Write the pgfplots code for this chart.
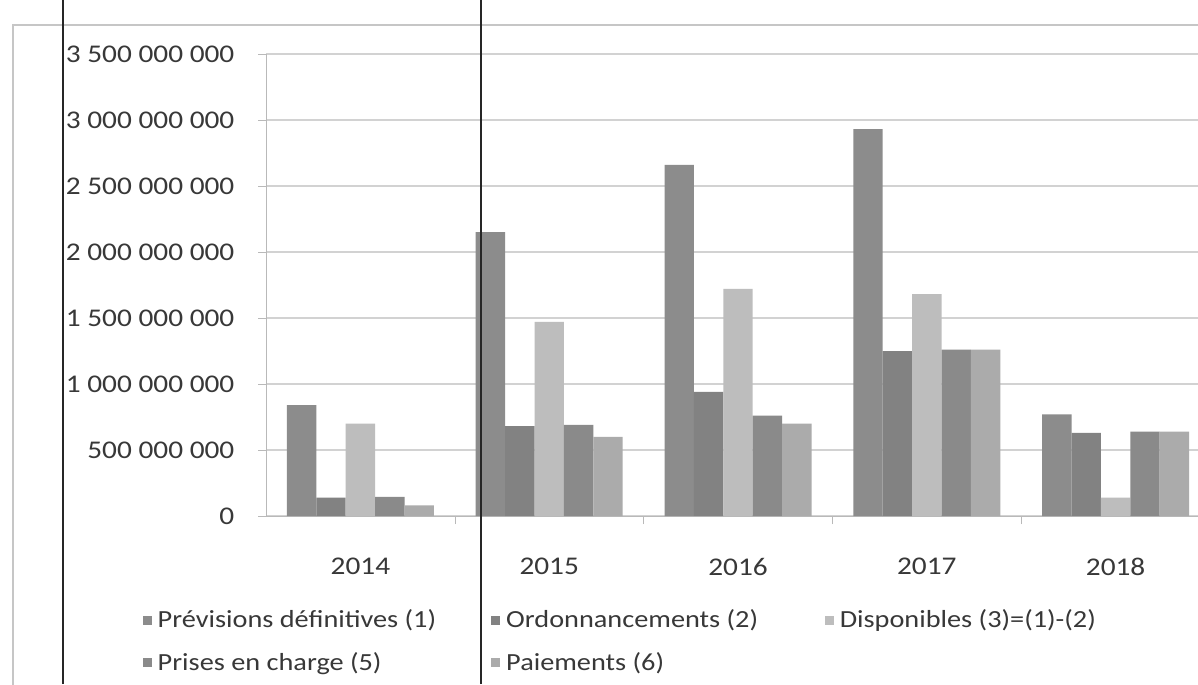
\documentclass[border=0pt]{standalone}
\usepackage{pgfplots}
\pgfplotsset{compat=1.18}
\usepackage{fontspec}
\setmainfont{Carlito}[FakeStretch=1.15]
\definecolor{cPrev}{HTML}{8C8C8C}
\definecolor{cOrd}{HTML}{828282}
\definecolor{cDisp}{HTML}{BDBDBD}
\definecolor{cPrise}{HTML}{8A8A8A}
\definecolor{cPaie}{HTML}{ABABAB}
\definecolor{cText}{HTML}{383838}
\begin{document}
\begin{tikzpicture}[x=1cm,y=1cm]
\clip (0,0) rectangle (23.96,13.68);
\fill[white] (0,0) rectangle (23.96,13.68);
\draw[gray!45, line width=0.7pt] (0.26,-1) -- (0.26,13.18) -- (25,13.18);
\begin{axis}[
  at={(5.32cm,3.36cm)}, anchor=south west, scale only axis,
  width=18.88cm, height=9.24cm,
  ymin=0, ymax=3500000000, xmin=-0.5, xmax=4.5,
  ybar=0pt, bar width=0.588cm,
  axis x line*=bottom, axis y line*=left,
  axis line style={gray!55, -},
  ytick={0,500000000,1000000000,1500000000,2000000000,2500000000,3000000000,3500000000},
  yticklabels={0,500~000~000,1~000~000~000,1~500~000~000,2~000~000~000,2~500~000~000,3~000~000~000,3~500~000~000},
  scaled y ticks=false,
  ymajorgrids, grid style={gray!35, line width=0.7pt},
  tick align=outside, major tick length=0.16cm, tick style={gray!55},
  xtick={0.5,1.5,2.5,3.5}, xticklabels={},
  extra x ticks={0,1,2,3,4},
  extra x tick labels={2014,2015,2016,2017,2018},
  extra x tick style={major tick length=0pt, grid=none,
    xticklabel style={yshift=-0.72cm}},
  yticklabel style={font=\fontsize{14.5}{17}\selectfont, text=cText, xshift=-0.35cm},
  xticklabel style={font=\fontsize{14.5}{17}\selectfont, text=cText},
  legend columns=3,
  legend cell align=left,
  legend image code/.code={\fill[#1] (0cm,-0.09cm) rectangle (0.18cm,0.09cm); \path (0.23cm,0cm);},
  legend style={at={(axis description cs:-0.131,-0.195)}, anchor=north west,
    draw=none, fill=none, inner sep=0pt, row sep=0.3cm,
    font=\fontsize{14}{17}\selectfont, text=cText},
]
\addplot[fill=cPrev, draw=none] coordinates {(0,840000000) (1,2150000000) (2,2660000000) (3,2930000000) (4,770000000)};
\addlegendentry{\makebox[6.6cm][l]{Prévisions définitives (1)}}
\addplot[fill=cOrd, draw=none] coordinates {(0,140000000) (1,680000000) (2,940000000) (3,1250000000) (4,630000000)};
\addlegendentry{\makebox[6.3cm][l]{Ordonnancements (2)}}
\addplot[fill=cDisp, draw=none] coordinates {(0,700000000) (1,1470000000) (2,1720000000) (3,1680000000) (4,140000000)};
\addlegendentry{Disponibles (3)=(1)-(2)}
\addplot[fill=cPrise, draw=none] coordinates {(0,145000000) (1,690000000) (2,760000000) (3,1260000000) (4,640000000)};
\addlegendentry{Prises en charge (5)}
\addplot[fill=cPaie, draw=none] coordinates {(0,80000000) (1,600000000) (2,700000000) (3,1260000000) (4,640000000)};
\addlegendentry{Paiements (6)}
\end{axis}
\draw[black!85, line width=1.1pt] (1.26,0) -- (1.26,13.68);
\draw[black!85, line width=1.1pt] (9.62,0) -- (9.62,13.68);
\end{tikzpicture}
\end{document}
